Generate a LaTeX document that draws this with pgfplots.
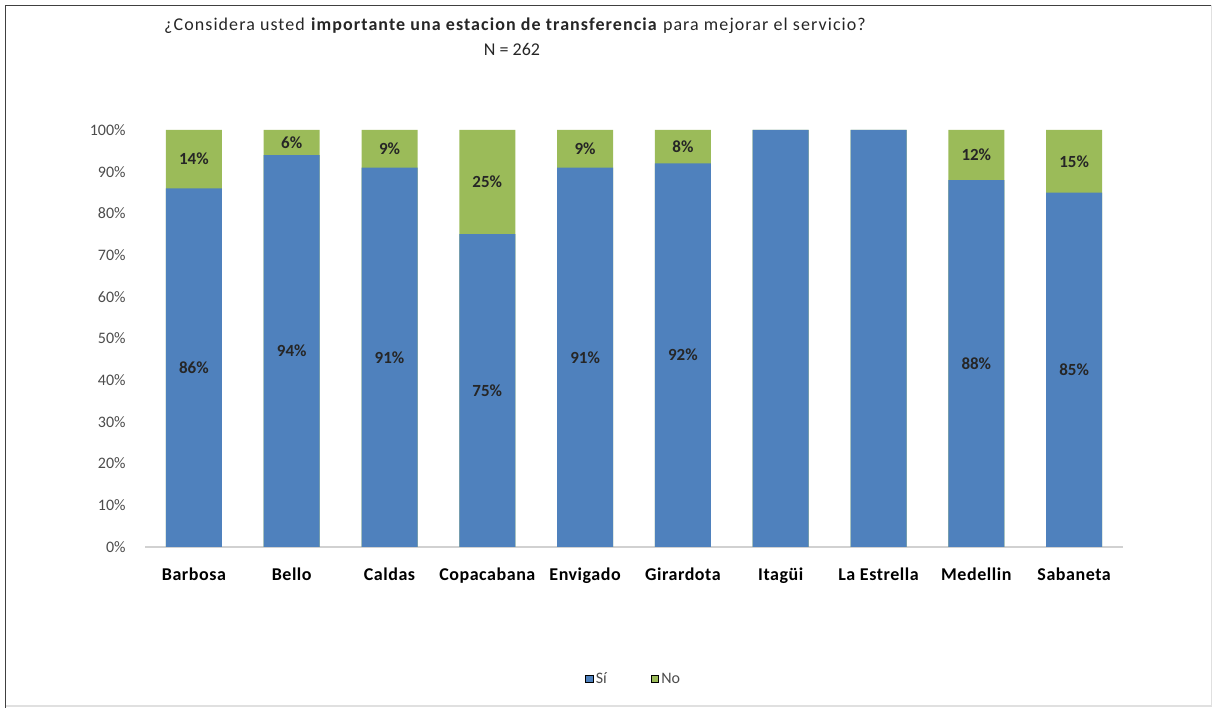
\documentclass[border=0pt]{standalone}
\usepackage{fontspec}
\setmainfont{Carlito}
\usepackage{pgfplots}
\pgfplotsset{compat=1.18}
\usepackage{pgfplotstable}

\definecolor{siblue}{HTML}{4F81BD}
\definecolor{nogreen}{HTML}{9BBB59}
\definecolor{txt}{HTML}{262626}

% porcentajes por municipio
\pgfplotstableread{
x si no lsi lno
0 86 14 86\% 14\%
1 94 6 94\% 6\%
2 91 9 91\% 9\%
3 75 25 75\% 25\%
4 91 9 91\% 9\%
5 92 8 92\% 8\%
6 100 0 {} {}
7 100 0 {} {}
8 88 12 88\% 12\%
9 85 15 85\% 15\%
}\data

\begin{document}
\begin{tikzpicture}[x=0.75pt,y=0.75pt]
\path (0,0) rectangle (1213,708);
\draw[black!75, line width=1.2pt] (5.5,0) -- (5.5,702.5) -- (1212,702.5);
\draw[black!12, line width=1pt] (1211.5,702.5) -- (1211.5,2) -- (5.5,2);

\node[font=\fontsize{13.5}{16}\selectfont\addfontfeature{LetterSpace=6}, text=txt] at (515,682)
  {¿Considera usted \textbf{importante una estacion de transferencia} para mejorar el servicio?};
\node[font=\fontsize{13.5}{16}\selectfont, text=txt] at (512,658) {N = 262};

\begin{axis}[
    at={(108.75pt,120.75pt)}, anchor=south west,
    scale only axis,
    width=733.5pt, height=312.75pt,
    xmin=-0.5, xmax=9.5,
    ymin=0, ymax=100,
    enlargelimits=false,
    axis x line*=bottom,
    axis y line*=left,
    y axis line style={draw=none},
    x axis line style={draw=black!18, line width=1pt, -},
    tick style={draw=none},
    xtick={0,...,9},
    xticklabels={Barbosa, Bello, Caldas, Copacabana, Envigado, Girardota, Itagüi, La Estrella, Medellin, Sabaneta},
    xticklabel style={font=\fontsize{13.5}{16}\selectfont\bfseries\addfontfeature{LetterSpace=3}, text=black, yshift=-12pt},
    ytick={0,10,...,100},
    yticklabel={\pgfmathprintnumber{\tick}\%},
    /pgf/number format/assume math mode=true,
    yticklabel style={font=\fontsize{12}{14}\selectfont, text=black!70, xshift=-11pt},
    legend style={at={(0.5,-0.3165)}, anchor=center, draw=none, fill=none,
        legend columns=2, font=\fontsize{12}{14}\selectfont, text=black!70,
        /tikz/every even column/.append style={column sep=31pt}},
    legend image code/.code={\fill[#1] (0pt,-2.8pt) rectangle (5.5pt,2.8pt);},
]

\addplot[ybar, bar width=42pt, bar shift=0pt, fill=nogreen, draw=none, forget plot]
    table[x=x, y expr=\thisrow{si}+\thisrow{no}] {\data};
\addplot[ybar, bar width=42pt, bar shift=0pt, fill=siblue, draw=none, forget plot]
    table[x=x, y=si] {\data};

\addplot[draw=none, mark=none, forget plot, nodes near coords, point meta=explicit symbolic,
    nodes near coords align={center},
    every node near coord/.append style={anchor=center, font=\fontsize{12.75}{15}\selectfont\bfseries, text=txt}]
    table[x=x, y expr=\thisrow{si}/2, meta=lsi] {\data};
\addplot[draw=none, mark=none, forget plot, nodes near coords, point meta=explicit symbolic,
    nodes near coords align={center},
    every node near coord/.append style={anchor=center, font=\fontsize{12.75}{15}\selectfont\bfseries, text=txt}]
    table[x=x, y expr=\thisrow{si}+\thisrow{no}/2, meta=lno] {\data};

\addlegendimage{fill=siblue}
\addlegendentry{Sí}
\addlegendimage{fill=nogreen}
\addlegendentry{No}
\end{axis}
\end{tikzpicture}
\end{document}
